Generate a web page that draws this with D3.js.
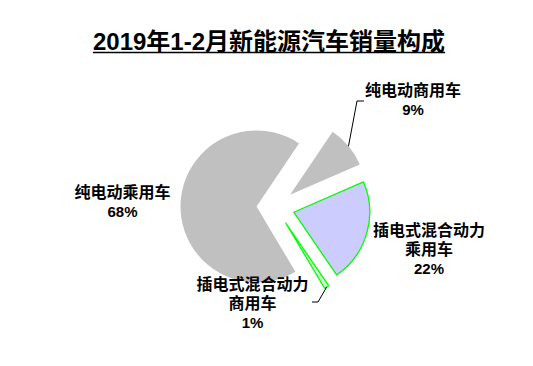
<!DOCTYPE html>
<html>
<head>
<meta charset="utf-8">
<script src="https://cdn.jsdelivr.net/npm/d3@7"></script>
<style>
  body { margin: 0; background: #fff; }
  text { font-family: "Liberation Sans", Arial, "Noto Sans CJK SC", sans-serif; font-weight: bold; fill: #000; }
  tspan.pct { font-family: "Liberation Sans Narrow", "Liberation Sans", Arial, sans-serif; }
</style>
</head>
<body>
<script>
"use strict";
(function(){
    // Chart data
    const title = "2019年1-2月新能源汽车销量构成"
    const categories = ["纯电动商用车", "插电式混合动力乘用车", "插电式混合动力商用车", "纯电动乘用车"]
    const shares = [9, 22, 1, 68]
    const labelLines = [
        ["纯电动商用车"],
        ["插电式混合动力", "乘用车"],
        ["插电式混合动力", "商用车"],
        ["纯电动乘用车"]
    ]

    // Layout
    const measurements = { width: 533, height: 366 }
    const pieCenter = { x: 275.5, y: 207 }
    const radius = 76
    const explode = 19
    const firstAngle = 34 * Math.PI / 180
    const fills = ["#c0c0c0", "#ccccff", "#ccffcc", "#c0c0c0"]
    const strokes = ["none", "#00ff00", "#00ff00", "none"]
    // label anchor (center x, first baseline y)
    const labelPos = [[413, 96], [429, 236], [252.5, 290], [122.5, 198]]
    // leader lines: elbow and end points (null = no leader)
    const leaders = [[[357, 101], [364, 101]], null, [[318, 302], [312, 302]], null]
    const lineGap = 19

    const svg = d3.select("body").append("svg")
        .attr("width", measurements.width)
        .attr("height", measurements.height)

    // Title with underline
    const titleText = svg.append("text")
        .attr("x", 269)
        .attr("y", 50)
        .attr("text-anchor", "middle")
        .attr("font-size", 24)
        .text(title)
    const tb = titleText.node().getBBox()
    svg.append("line")
        .attr("x1", tb.x).attr("x2", tb.x + tb.width)
        .attr("y1", 52.5).attr("y2", 52.5)
        .attr("stroke", "#000")
        .attr("stroke-width", 1.5)

    const pie = d3.pie()
        .sort(null)
        .value(d => d)
        .startAngle(firstAngle)
        .endAngle(firstAngle + 2 * Math.PI)
    const arcs = pie(shares)

    const arc = d3.arc().innerRadius(0).outerRadius(radius)

    // offset of each exploded slice
    function offset(d) {
        const mid = (d.startAngle + d.endAngle) / 2
        return [Math.sin(mid) * explode, -Math.cos(mid) * explode]
    }

    const g = svg.append("g")
        .attr("transform", `translate(${pieCenter.x},${pieCenter.y})`)

    g.selectAll("path.slice")
        .data(arcs)
        .enter()
        .append("path")
        .attr("class", "slice")
        .attr("d", arc)
        .attr("transform", d => { const o = offset(d); return `translate(${o[0]},${o[1]})` })
        .attr("fill", (d, i) => fills[i])
        .attr("stroke", (d, i) => strokes[i])
        .attr("stroke-width", 1.3)
        .attr("stroke-linejoin", "round")

    // Leader lines from the middle of the slice's outer edge
    arcs.forEach((d, i) => {
        if (!leaders[i]) return
        const mid = (d.startAngle + d.endAngle) / 2
        const o = offset(d)
        const sx = pieCenter.x + o[0] + Math.sin(mid) * radius
        const sy = pieCenter.y + o[1] - Math.cos(mid) * radius
        const pts = [[sx, sy]].concat(leaders[i])
        svg.append("path")
            .attr("d", d3.line()(pts))
            .attr("fill", "none")
            .attr("stroke", "#000")
            .attr("stroke-width", 1)
    })

    // Data labels
    arcs.forEach((d, i) => {
        const lines = labelLines[i].concat([shares[i] + "%"])
        const t = svg.append("text")
            .attr("text-anchor", "middle")
            .attr("font-size", 16)
        lines.forEach((s, k) => {
            const last = k === lines.length - 1
            t.append("tspan")
                .attr("class", last ? "pct" : null)
                .attr("x", labelPos[i][0])
                .attr("y", labelPos[i][1] + k * lineGap)
                .attr("font-size", last ? 15 : 16)
                .text(s)
        })
    })
})()
</script>
</body>
</html>
